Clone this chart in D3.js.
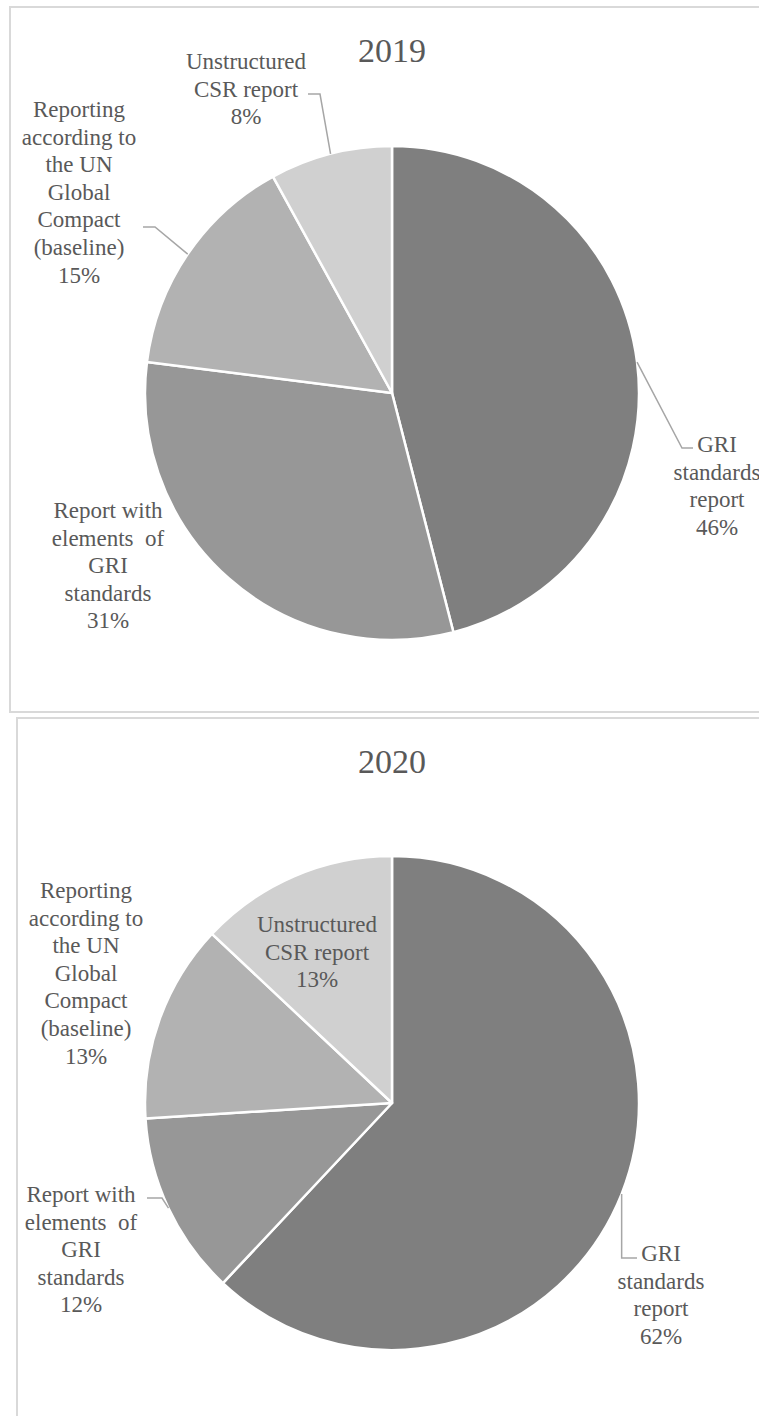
<!DOCTYPE html>
<html>
<head>
<meta charset="utf-8">
<script src="https://cdn.jsdelivr.net/npm/d3@7"></script>
<style>
  body { margin: 0; background: #fff; }
  svg { display: block; }
  svg text { font-family: "Liberation Serif", "Times New Roman", serif; }
</style>
</head>
<body>
<svg id="chart"></svg>
<script>
// data
var years = ["2019", "2020"];
var categories = [
    "GRI standards report",
    "Report with elements of GRI standards",
    "Reporting according to the UN Global Compact (baseline)",
    "Unstructured CSR report"
];
// how each category label is wrapped
var categoryLines = [
    ["GRI", "standards", "report"],
    ["Report with", "elements\u00a0 of", "GRI", "standards"],
    ["Reporting", "according to", "the UN", "Global", "Compact", "(baseline)"],
    ["Unstructured", "CSR report"]
];
var values2019 = [46, 31, 15, 8];
var values2020 = [62, 12, 13, 13];
var sliceColors = ["#7f7f7f", "#979797", "#b2b2b2", "#d0d0d0"];

// layout
var width = 759, height = 1416;
var radius = 247;
var lineH = 27.6;
var charts = [
    {
        title: years[0], values: values2019,
        frame: [10, 7, 800, 705], cx: 392, cy: 393, titleY: 62,
        labels: [
            {x: 717, y: 452, lead: {x: 693, y: 448, dx: -11}},
            {x: 108, y: 518},
            {x: 79, y: 117, lead: {x: 143, y: 227, dx: 12}},
            {x: 246, y: 69, lead: {x: 308, y: 94, dx: 12}}
        ]
    },
    {
        title: years[1], values: values2020,
        frame: [17, 718, 800, 800], cx: 392, cy: 1103, titleY: 773,
        labels: [
            {x: 661, y: 1261, lead: {x: 637, y: 1258, vertical: true}},
            {x: 81, y: 1202, lead: {x: 147, y: 1198, dx: 15}},
            {x: 86, y: 898},
            {x: 317, y: 932}
        ]
    }
];

var svg = d3.select("#chart")
    .attr("width", width)
    .attr("height", height);

var pie = d3.pie().sort(null).value(d => d);
var arc = d3.arc().innerRadius(0).outerRadius(radius);
var edgeArc = d3.arc().innerRadius(radius).outerRadius(radius);
var pct = d3.format(".0%");
var color = d3.scaleOrdinal().domain(d3.range(categories.length)).range(sliceColors);

charts.forEach(function(c){
    var g = svg.append("g");
    var total = d3.sum(c.values);

    g.append("rect")
        .attr("x", c.frame[0])
        .attr("y", c.frame[1])
        .attr("width", c.frame[2])
        .attr("height", c.frame[3])
        .attr("fill", "none")
        .attr("stroke", "#d9d9d9")
        .attr("stroke-width", 2);

    g.append("text")
        .attr("x", c.cx)
        .attr("y", c.titleY)
        .attr("text-anchor", "middle")
        .attr("font-size", 34)
        .attr("fill", "#595959")
        .text(c.title);

    var piedata = pie(c.values);
    var slices = g.append("g")
        .attr("transform", `translate(${c.cx}, ${c.cy})`);

    slices.selectAll("path")
        .data(piedata)
        .join("path")
        .attr("d", d => arc(d))
        .attr("fill", (d, i) => color(i))
        .attr("stroke", "#ffffff")
        .attr("stroke-width", 2.5)
        .attr("stroke-linejoin", "round");

    // leader lines from the middle of each slice edge
    piedata.forEach(function(d, i){
        var lab = c.labels[i];
        if(!lab.lead) return;
        var e = edgeArc.centroid(d);
        var ex = c.cx + e[0], ey = c.cy + e[1];
        var elbow = lab.lead.vertical ? [ex, lab.lead.y] : [lab.lead.x + lab.lead.dx, lab.lead.y];
        g.append("polyline")
            .attr("points", [[ex, ey], elbow, [lab.lead.x, lab.lead.y]].map(p => p.join(",")).join(" "))
            .attr("fill", "none")
            .attr("stroke", "#a6a6a6")
            .attr("stroke-width", 1.5);
    });

    // category labels
    piedata.forEach(function(d, i){
        var lab = c.labels[i];
        var lines = categoryLines[i].concat([pct(d.data / total)]);
        var t = g.append("text")
            .attr("text-anchor", "middle")
            .attr("font-size", 23)
            .attr("fill", "#595959");
        t.selectAll("tspan")
            .data(lines)
            .join("tspan")
            .attr("x", lab.x)
            .attr("y", (s, k) => lab.y + k * lineH)
            .text(s => s);
    });
});
</script>
</body>
</html>
